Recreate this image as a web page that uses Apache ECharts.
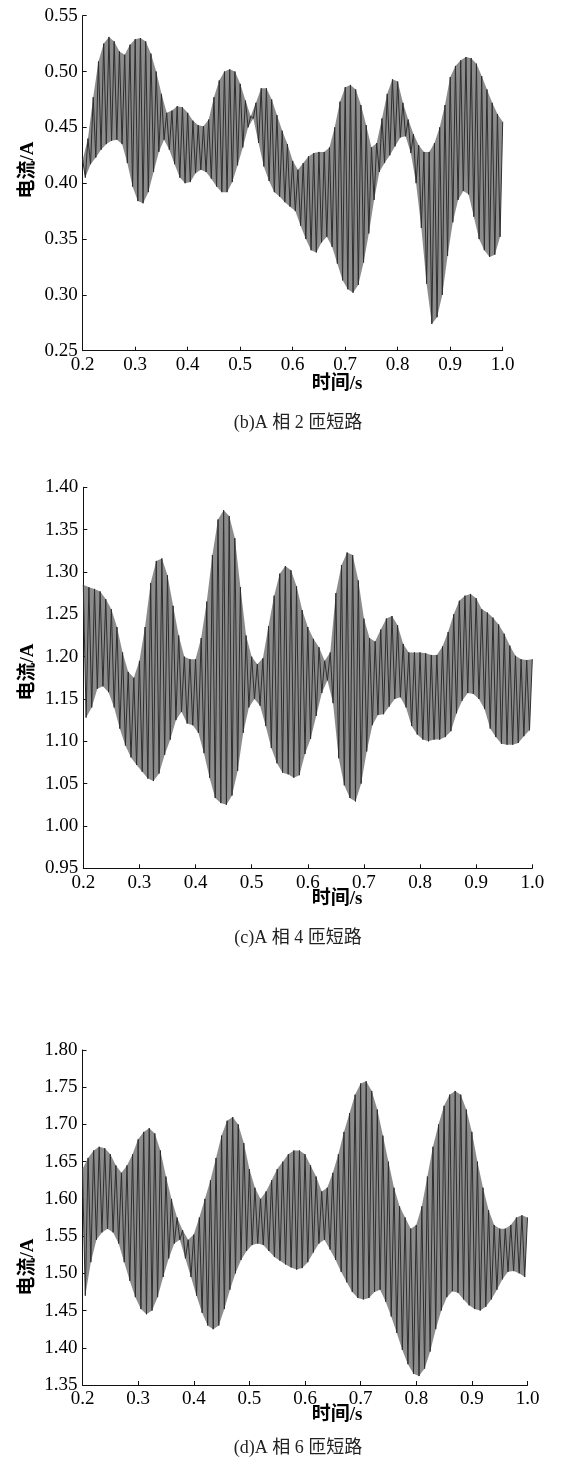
<!DOCTYPE html>
<html>
<head>
<meta charset="utf-8">
<script src="https://cdn.jsdelivr.net/npm/echarts@6/dist/echarts.min.js"></script>
<style>
html,body{margin:0;padding:0;background:#fff;}
#c{width:586px;height:1474px;}
</style>
</head>
<body>
<div id="c"></div>
<script>
// Sampling grid: peaks at T0 + k*DT, troughs half a step later
const T0 = 0.2, DT = 0.01;

// Tick labels / axis ranges
const xTicks = [0.2, 0.3, 0.4, 0.5, 0.6, 0.7, 0.8, 0.9, 1.0];
const yRange1 = [0.25, 0.55];
const yRange2 = [0.95, 1.40];
const yRange3 = [1.35, 1.80];

// Texts
const captions = ['(b)A 相 2 匝短路', '(c)A 相 4 匝短路', '(d)A 相 6 匝短路'];
const xTitle = '时间/s';
const yTitle = '电流/A';

// Panel (b): peak values (t = 0.20 ... 1.00) and trough values (t = 0.205 ... 0.995)
const up1 = [0.421,0.440,0.477,0.509,0.525,0.531,0.527,0.518,0.515,0.524,
  0.529,0.530,0.527,0.516,0.500,0.480,0.463,0.465,0.469,0.468,
  0.463,0.456,0.452,0.451,0.457,0.477,0.492,0.500,0.502,0.500,
  0.489,0.474,0.460,0.472,0.485,0.485,0.475,0.461,0.447,0.435,
  0.420,0.412,0.418,0.424,0.427,0.428,0.428,0.432,0.450,0.473,
  0.486,0.488,0.484,0.470,0.452,0.432,0.436,0.458,0.480,0.493,
  0.491,0.472,0.457,0.444,0.434,0.428,0.428,0.436,0.450,0.470,
  0.495,0.505,0.510,0.513,0.512,0.507,0.496,0.484,0.472,0.462,0.455];
const lo1 = [0.405,0.417,0.423,0.430,0.435,0.438,0.439,0.435,0.418,0.397,
  0.384,0.382,0.392,0.410,0.428,0.439,0.430,0.417,0.405,0.400,
  0.401,0.409,0.412,0.410,0.404,0.397,0.392,0.392,0.401,0.416,
  0.432,0.450,0.458,0.436,0.415,0.402,0.392,0.388,0.383,0.379,
  0.375,0.362,0.350,0.340,0.338,0.347,0.352,0.343,0.328,0.313,
  0.305,0.302,0.309,0.329,0.355,0.385,0.410,0.418,0.425,0.433,
  0.441,0.442,0.427,0.400,0.360,0.310,0.274,0.280,0.300,0.335,
  0.365,0.385,0.393,0.390,0.370,0.350,0.340,0.334,0.336,0.352];

// Panel (c)
const up2 = [1.285,1.282,1.280,1.277,1.268,1.256,1.235,1.205,1.182,1.175,
  1.195,1.235,1.287,1.313,1.316,1.296,1.260,1.225,1.200,1.197,
  1.197,1.222,1.265,1.320,1.362,1.373,1.366,1.340,1.282,1.225,
  1.200,1.191,1.198,1.236,1.272,1.298,1.307,1.302,1.283,1.255,
  1.235,1.221,1.211,1.195,1.205,1.275,1.308,1.323,1.320,1.290,
  1.245,1.222,1.218,1.232,1.245,1.248,1.237,1.215,1.205,1.205,
  1.205,1.204,1.202,1.202,1.212,1.229,1.250,1.266,1.272,1.274,
  1.269,1.256,1.252,1.246,1.238,1.227,1.213,1.201,1.197,1.196,1.197];
const lo2 = [1.128,1.140,1.162,1.165,1.158,1.140,1.115,1.095,1.081,1.072,
  1.064,1.056,1.053,1.062,1.084,1.102,1.125,1.135,1.121,1.119,
  1.110,1.086,1.057,1.033,1.027,1.025,1.036,1.065,1.110,1.140,
  1.150,1.142,1.118,1.092,1.074,1.063,1.061,1.057,1.060,1.085,
  1.103,1.130,1.157,1.172,1.145,1.080,1.048,1.033,1.029,1.050,
  1.088,1.119,1.131,1.132,1.141,1.150,1.152,1.140,1.118,1.108,
  1.102,1.100,1.102,1.102,1.105,1.112,1.133,1.148,1.157,1.156,
  1.150,1.138,1.115,1.105,1.097,1.096,1.096,1.098,1.106,1.113];

// Panel (d)
const up3 = [1.640,1.655,1.665,1.670,1.668,1.660,1.645,1.635,1.645,1.660,
  1.680,1.690,1.695,1.688,1.665,1.630,1.600,1.575,1.558,1.545,
  1.552,1.575,1.600,1.625,1.655,1.685,1.705,1.710,1.700,1.675,
  1.640,1.615,1.600,1.610,1.625,1.640,1.650,1.660,1.665,1.665,
  1.660,1.645,1.630,1.610,1.615,1.635,1.660,1.690,1.715,1.740,
  1.755,1.758,1.745,1.720,1.685,1.650,1.615,1.590,1.575,1.560,
  1.565,1.590,1.630,1.670,1.700,1.725,1.740,1.745,1.740,1.720,
  1.690,1.650,1.615,1.585,1.565,1.560,1.560,1.565,1.575,1.578,1.575];
const lo3 = [1.470,1.515,1.545,1.555,1.560,1.555,1.540,1.515,1.490,1.468,
  1.452,1.445,1.450,1.468,1.495,1.520,1.540,1.545,1.520,1.495,
  1.470,1.447,1.430,1.425,1.430,1.452,1.478,1.500,1.518,1.530,
  1.538,1.540,1.538,1.530,1.522,1.517,1.512,1.508,1.505,1.507,
  1.515,1.528,1.540,1.545,1.532,1.518,1.502,1.488,1.475,1.467,
  1.465,1.467,1.475,1.478,1.462,1.442,1.420,1.397,1.378,1.365,
  1.362,1.372,1.395,1.425,1.450,1.468,1.476,1.474,1.465,1.457,
  1.452,1.450,1.455,1.465,1.478,1.492,1.502,1.503,1.500,1.495];

function wave(up, lo) {
  const d = [];
  for (let k = 0; k < up.length; k++) {
    d.push([+(T0 + k * DT).toFixed(4), up[k]]);
    if (k < lo.length) d.push([+(T0 + DT / 2 + k * DT).toFixed(4), lo[k]]);
  }
  return d;
}

const grids = [
  {left: 82.7, top: 15.7, width: 420, height: 335},
  {left: 83.3, top: 487.3, width: 449, height: 381},
  {left: 82.5, top: 1050, width: 445, height: 335}
];
const yRanges = [yRange1, yRange2, yRange3];
const ups = [up1, up2, up3];
const los = [lo1, lo2, lo3];
const waves = [wave(up1, lo1), wave(up2, lo2), wave(up3, lo3)];

const serif = '"Liberation Serif", "Noto Sans CJK SC", serif';
const axisCommon = {
  axisLine: {show: true, lineStyle: {color: '#111', width: 1}},
  axisTick: {show: true, inside: true, length: 4, lineStyle: {color: '#111', width: 1}},
  splitLine: {show: false}
};

const xAxes = grids.map((g, i) => Object.assign({
  type: 'value', gridIndex: i, min: xTicks[0], max: xTicks[xTicks.length - 1], interval: 0.1,
  axisLabel: {formatter: v => v.toFixed(1), fontSize: 19, fontFamily: serif, color: '#000', margin: 5}
}, axisCommon));
const yAxes = grids.map((g, i) => Object.assign({
  type: 'value', gridIndex: i, min: yRanges[i][0], max: yRanges[i][1], interval: 0.05,
  axisLabel: {formatter: v => v.toFixed(2), fontSize: 19, fontFamily: serif, color: '#000', margin: 5}
}, axisCommon));

// gray band between the peak and trough envelopes (the dense fill of the oscillation)
const bands = ups.map((up, i) => ({
  type: 'custom', xAxisIndex: i, yAxisIndex: i, silent: true, animation: false,
  data: [[T0, up[0]]],
  renderItem: function (params, api) {
    const lo = los[i];
    const pts = [];
    for (let k = 0; k < up.length; k++) pts.push(api.coord([T0 + k * DT, up[k]]));
    for (let k = lo.length - 1; k >= 0; k--) pts.push(api.coord([T0 + DT / 2 + k * DT, lo[k]]));
    return {type: 'polygon', shape: {points: pts}, style: {fill: '#8c8c8c', stroke: null}};
  }
}));

const lines = waves.map((d, i) => ({
  type: 'line', xAxisIndex: i, yAxisIndex: i, data: d, showSymbol: false, symbol: 'none',
  lineStyle: {color: '#2e2e2e', width: 1}, animation: false, silent: true
}));

const xTitlePos = [[337, 384], [337, 899], [337, 1415]];
const yTitlePos = [[28, 170], [28, 672], [28, 1267]];
const capPos = [[298, 423], [298, 938], [298, 1448]];

const graphics = [];
for (let i = 0; i < 3; i++) {
  graphics.push({type: 'text', x: xTitlePos[i][0], y: xTitlePos[i][1],
    style: {text: xTitle, font: 'bold 19px ' + serif, fill: '#000', textAlign: 'center', textVerticalAlign: 'middle', align: 'center', verticalAlign: 'middle'}});
  graphics.push({type: 'text', x: yTitlePos[i][0], y: yTitlePos[i][1], rotation: Math.PI / 2,
    style: {text: yTitle, font: 'bold 19px ' + serif, fill: '#000', textAlign: 'center', textVerticalAlign: 'middle', align: 'center', verticalAlign: 'middle'}});
  graphics.push({type: 'text', x: capPos[i][0], y: capPos[i][1],
    style: {text: captions[i], font: '18px ' + serif, fill: '#222', textAlign: 'center', textVerticalAlign: 'middle', align: 'center', verticalAlign: 'middle'}});
}

const chart = echarts.init(document.getElementById('c'), null, {renderer: 'canvas'});
chart.setOption({
  animation: false,
  backgroundColor: '#fff',
  grid: grids,
  xAxis: xAxes,
  yAxis: yAxes,
  series: bands.concat(lines),
  graphic: graphics
});
</script>
</body>
</html>
